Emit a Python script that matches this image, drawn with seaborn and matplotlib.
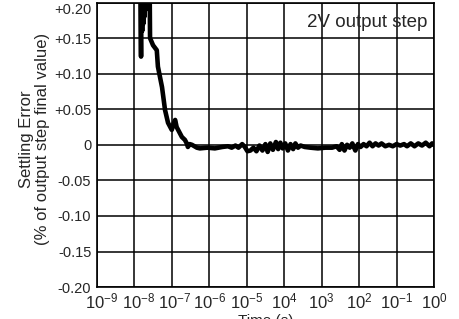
import numpy as np
import pandas as pd
import seaborn as sns
import matplotlib.pyplot as plt
from matplotlib.transforms import ScaledTranslation

# Settling error trace (log10 of time in s, error in %)
log_time = [
    -7.85, -7.83, -7.82, -7.81, -7.79, -7.78, -7.76, -7.75, -7.73, -7.72,
    -7.70, -7.69, -7.67, -7.66, -7.64, -7.63, -7.61, -7.60, -7.59, -7.58,
    -7.50, -7.40, -7.37, -7.26, -7.18, -7.10, -7.00, -6.95, -6.91, -6.87,
    -6.83, -6.73, -6.65, -6.60, -6.57, -6.52, -6.46, -6.33,
    -6.25, -6.05, -5.85, -5.65, -5.50, -5.40, -5.30,
    -5.22, -5.12, -5.05, -4.98, -4.90, -4.82, -4.74, -4.66, -4.58, -4.50,
    -4.44, -4.37, -4.30, -4.22, -4.16, -4.10, -4.04, -3.97, -3.90, -3.83,
    -3.76, -3.70, -3.63, -3.56, -3.45, -3.30, -3.10, -2.90, -2.72, -2.60,
    -2.52, -2.46, -2.39, -2.32, -2.25, -2.18, -2.10, -2.03, -1.96, -1.88,
    -1.80, -1.72, -1.64, -1.56, -1.48, -1.40, -1.30, -1.20, -1.10, -1.00,
    -0.90, -0.80, -0.72, -0.62, -0.52, -0.42, -0.32, -0.22, -0.12, -0.05,
    0.00,
]
settling_err = [
    0.300, 0.180, 0.124, 0.300, 0.160, 0.300, 0.170, 0.300, 0.180, 0.300,
    0.190, 0.300, 0.195, 0.300, 0.200, 0.300, 0.210, 0.300, 0.220, 0.150,
    0.140, 0.133, 0.110, 0.081, 0.049, 0.031, 0.021, 0.030, 0.035, 0.025,
    0.021, 0.011, 0.007, 0.002, -0.003, 0.001, 0.000, -0.004,
    -0.005, -0.004, -0.005, -0.003, -0.002, -0.004, -0.001,
    -0.004, 0.001, -0.003, -0.009, -0.008, -0.004, -0.009, -0.001, -0.008, 0.001,
    -0.010, 0.002, -0.007, 0.004, -0.006, 0.003, -0.005, 0.002, -0.008, 0.001,
    -0.006, 0.002, -0.004, -0.001, -0.003, -0.004, -0.005, -0.004, -0.004, -0.002,
    -0.007, 0.001, -0.008, 0.000, -0.004, 0.002, -0.008, 0.001, -0.003, 0.001,
    -0.002, 0.003, -0.002, 0.002, -0.001, 0.002, -0.002, 0.000, -0.002, 0.001,
    -0.001, 0.001, -0.002, 0.002, -0.002, 0.002, -0.001, 0.003, -0.002, 0.002,
    0.000,
]

x_ticks = [1e-9, 1e-8, 1e-7, 1e-6, 1e-5, 1e-4, 1e-3, 1e-2, 1e-1, 1e0]
x_ticklabels = [r'$\mathregular{10^{-9}}$', r'$\mathregular{10^{-8}}$', r'$\mathregular{10^{-7}}$',
                r'$\mathregular{10^{-6}}$', r'$\mathregular{10^{-5}}$', r'$\mathregular{10^{4}}$',
                r'$\mathregular{10^{3}}$', r'$\mathregular{10^{2}}$', r'$\mathregular{10^{-1}}$',
                r'$\mathregular{10^{0}}$']
y_ticks = [0.20, 0.15, 0.10, 0.05, 0.0, -0.05, -0.10, -0.15, -0.20]
y_ticklabels = ['+0.20', '+0.15', '+0.10', '+0.05', '0', '-0.05', '-0.10', '-0.15', '-0.20']

df = pd.DataFrame({'time': 10.0 ** np.array(log_time), 'err': settling_err})

sns.set_style("white")
plt.rcParams['font.family'] = ['Liberation Sans', 'DejaVu Sans']
plt.rcParams['mathtext.fontset'] = 'custom'
plt.rcParams['mathtext.rm'] = 'Liberation Sans'

fig = plt.figure(figsize=(4.59, 3.19), dpi=100)
ax = fig.add_axes([0.211, 0.100, 0.7345, 0.892])

sns.lineplot(data=df, x='time', y='err', sort=False, estimator=None,
             color='black', linewidth=3.3, ax=ax)

ax.set_xscale('log')
ax.set_xlim(1e-9, 1e0)
ax.set_ylim(-0.20, 0.20)
ax.set_xticks(x_ticks)
ax.set_xticklabels(x_ticklabels, fontsize=12)
ax.xaxis.set_minor_locator(plt.NullLocator())
ax.set_yticks(y_ticks)
ax.set_yticklabels(y_ticklabels, fontsize=10.5)
ax.tick_params(length=0, pad=4)
ax.tick_params(axis='x', pad=3)

# top y label sits just below the frame; first x labels nudged right
ax.get_yticklabels()[0].set_va('top')
for lbl, dx in zip(ax.get_xticklabels()[:3], [5, 4, 3]):
    lbl.set_transform(lbl.get_transform() + ScaledTranslation(dx / 100, 0, fig.dpi_scale_trans))

ax.grid(True, color='black', linewidth=1.1)
for s in ax.spines.values():
    s.set_color('black')
    s.set_linewidth(1.2)

ax.set_ylabel('Settling Error\n(% of output step final value)', fontsize=12, linespacing=1.05)
ax.yaxis.set_label_coords(-0.14, 0.52)
ax.set_xlabel('Time (s)', fontsize=11)
ax.xaxis.set_label_coords(0.5, -0.095)
ax.xaxis.label.set_va('top')

ax.text(0.979, 0.93, '2V output step', transform=ax.transAxes,
        ha='right', va='center', fontsize=13.5)

fig.savefig('out.png', dpi=100)
